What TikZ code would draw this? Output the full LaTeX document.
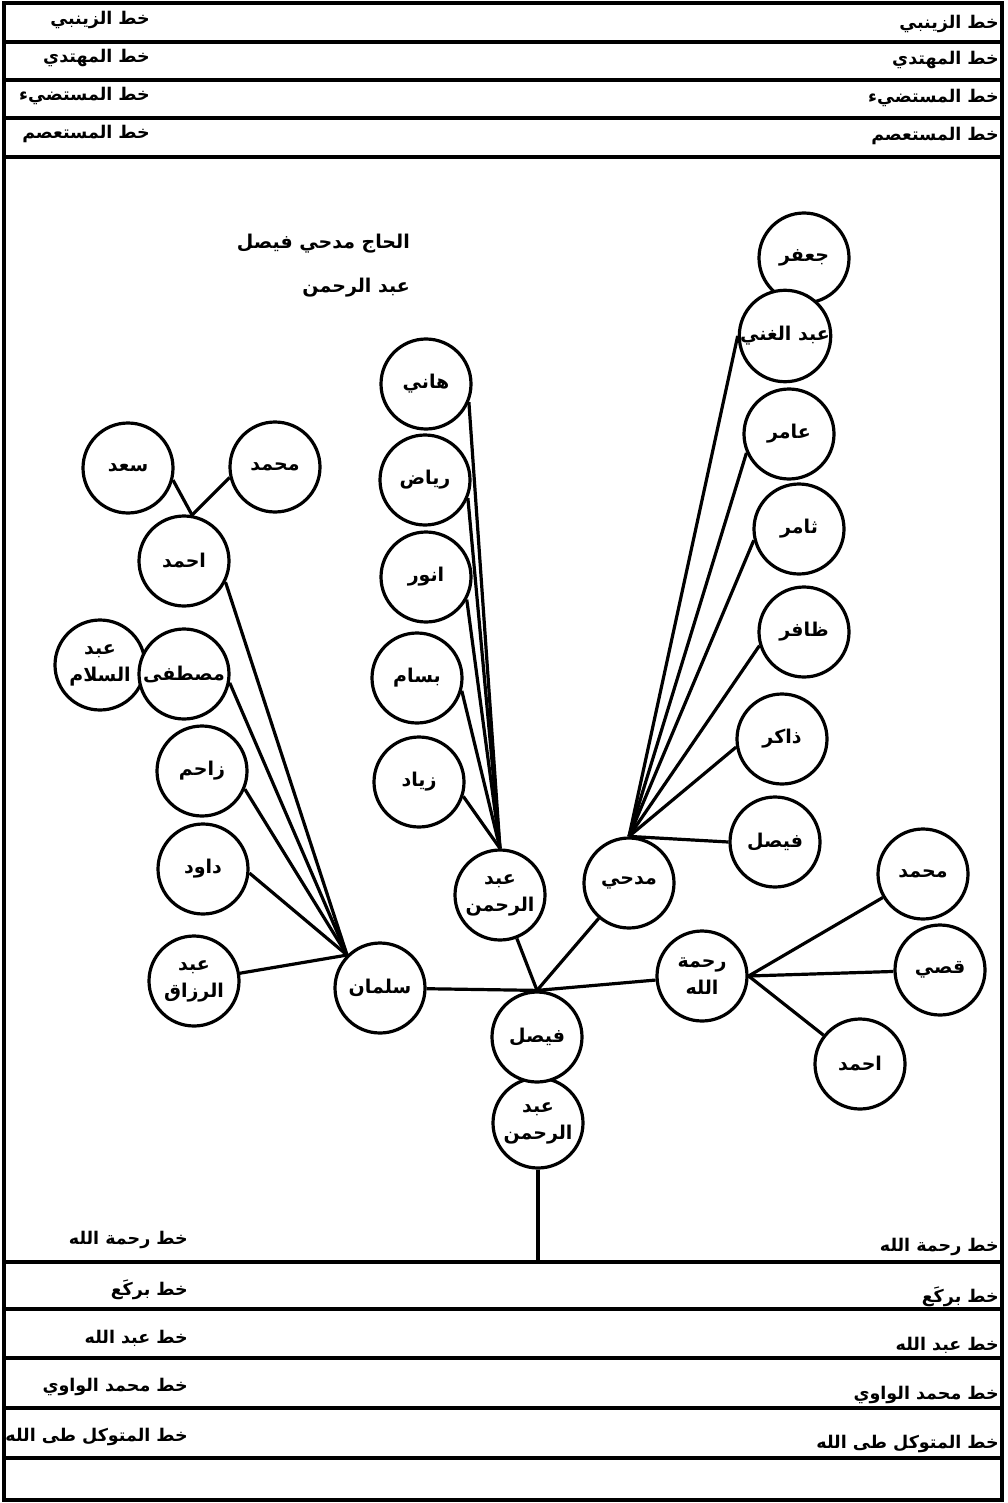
\documentclass[tikz,border=0pt]{standalone}
\usepackage{fontspec}
\usepackage{tikz}
\TeXXeTstate=1
\newfontfamily\arabicfont[Script=Arabic]{DejaVu Sans}
\newcommand{\ar}[1]{\beginR #1\endR}
\tikzset{
  person/.style={circle,draw=black,line width=3.2pt,fill=white,minimum size=90pt,inner sep=0pt,
                 align=center,font=\arabicfont\bfseries\fontsize{19}{27}\selectfont},
  link/.style={line width=3.2pt,draw=black},
  rowline/.style={line width=3.4pt,draw=black},
  rowlabel/.style={anchor=east,inner sep=0pt,font=\arabicfont\bfseries\fontsize{17.5}{22}\selectfont},
  heading/.style={anchor=east,inner sep=0pt,font=\arabicfont\bfseries\fontsize{19}{22}\selectfont}
}
\begin{document}
\begin{tikzpicture}[x=1pt,y=-1pt]
  \useasboundingbox (0,0) rectangle (1007,1503);
  \draw[line width=4.5pt] (4,3) rectangle (1002,1500);
  \foreach \y in {42,80,118,157,1262,1309,1358,1408,1458} \draw[rowline] (4,\y) -- (1002,\y);
  \foreach \yl/\yr/\t in {20/24/الزينبي,58/60/المهتدي,96/98/المستضيء,134/136/المستعصم}{
    \node[rowlabel] (tl\yl) at (150,\yl) {\ar{خط \t}};
    \node[rowlabel] (tr\yl) at (999,\yr) {\ar{خط \t}};}
  \foreach \yl/\yr/\t in {1240/1247/رحمة الله,1290/1297/بركَع,1338/1345/عبد الله,1387/1395/محمد الواوي,1437/1444/المتوكل طى الله}{
    \node[rowlabel] (bl\yl) at (188,\yl) {\ar{خط \t}};
    \node[rowlabel] (br\yl) at (999,\yr) {\ar{خط \t}};}
  \node[heading] (title1) at (410,244) {\ar{الحاج مدحي فيصل}};
  \node[heading] (title2) at (410,288) {\ar{عبد الرحمن}};
  \node[person] (jaafar) at (804,258) {\ar{جعفر}};
  \node[person] (ghani) at (785,336) {\ar{عبد الغني}};
  \node[person] (amer) at (789,434) {\ar{عامر}};
  \node[person] (thamer) at (799,529) {\ar{ثامر}};
  \node[person] (dhafer) at (804,632) {\ar{ظافر}};
  \node[person] (dhaker) at (782,739) {\ar{ذاكر}};
  \node[person] (faisalr) at (775,842) {\ar{فيصل}};
  \node[person] (madhi) at (629,883) {\ar{مدحي}};
  \node[person] (hani) at (426,384) {\ar{هاني}};
  \node[person] (riyad) at (425,480) {\ar{رياض}};
  \node[person] (anwar) at (426,577) {\ar{انور}};
  \node[person] (bassam) at (417,678) {\ar{بسام}};
  \node[person] (ziyad) at (419,782) {\ar{زياد}};
  \node[person] (abdrahman) at (500,895) {\ar{عبد}\\\ar{الرحمن}};
  \node[person] (saad) at (128,468) {\ar{سعد}};
  \node[person] (mohl) at (275,467) {\ar{محمد}};
  \node[person] (ahmadl) at (184,561) {\ar{احمد}};
  \node[person] (salam) at (100,665) {\ar{عبد}\\\ar{السلام}};
  \node[person] (mustafa) at (184,674) {\ar{مصطفى}};
  \node[person] (zahem) at (202,771) {\ar{زاحم}};
  \node[person] (dawud) at (203,869) {\ar{داود}};
  \node[person] (razzaq) at (194,981) {\ar{عبد}\\\ar{الرزاق}};
  \node[person] (salman) at (380,988) {\ar{سلمان}};
  \node[person] (rahma) at (702,976) {\ar{رحمة}\\\ar{الله}};
  \node[person] (mohr) at (923,874) {\ar{محمد}};
  \node[person] (qusay) at (940,970) {\ar{قصي}};
  \node[person] (ahmadr) at (860,1064) {\ar{احمد}};
  \node[person] (root) at (538,1123) {\ar{عبد}\\\ar{الرحمن}};
  \node[person] (faisal) at (537,1037) {\ar{فيصل}};
  \coordinate (stem) at (538,1262);
  \foreach \n/\a in {ghani/180,amer/204,thamer/194,dhafer/197,dhaker/190,faisalr/180}
    \draw[link] (madhi.north) -- (\n.\a);
  \foreach \n/\a in {hani/-23,riyad/-23,anwar/-29,bassam/-16,ziyad/-18}
    \draw[link] (abdrahman.north) -- (\n.\a);
  \foreach \n/\a in {ahmadl/-27,mustafa/-11,zahem/-23,dawud/-5}
    \draw[link] (salman.north west) -- (\n.\a);
  \draw[link] (razzaq) -- (salman.north west);
  \draw[link] (ahmadl.80) -- (saad.-15);
  \draw[link] (ahmadl.80) -- (mohl.193);
  \foreach \n in {salman,abdrahman,madhi,rahma} \draw[link] (faisal.north) -- (\n);
  \foreach \n in {mohr,qusay,ahmadr} \draw[link] (rahma.east) -- (\n);
  \draw[link] (root.south) -- (stem);
\end{tikzpicture}
\end{document}
